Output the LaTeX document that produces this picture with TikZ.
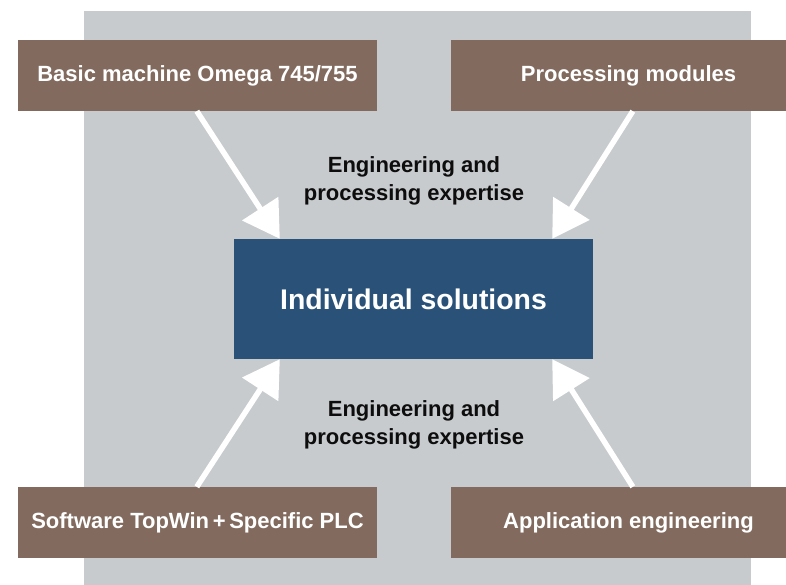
\documentclass[tikz,border=0pt]{standalone}
\usepackage{fontspec}
\setmainfont{Liberation Sans}
\usetikzlibrary{arrows.meta}
\definecolor{bgGray}{HTML}{C8CBCE}
\definecolor{boxBrown}{HTML}{826B5E}
\definecolor{boxBlue}{HTML}{2A5279}
\tikzset{
  srcbox/.style={fill=boxBrown, draw=none, minimum height=71pt, inner sep=0pt,
    text=white, font=\fontsize{22}{26}\selectfont\bfseries},
  centerbox/.style={fill=boxBlue, draw=none, minimum width=359pt, minimum height=120pt,
    inner sep=0pt, text=white, font=\fontsize{28.4}{32}\selectfont\bfseries},
  lbl/.style={align=center, inner sep=0pt, text=black!95,
    font=\fontsize{22}{27.5}\selectfont\bfseries},
  flow/.style={draw=white, line width=5.5pt,
    -{Triangle[length=36pt,width=42pt]}}
}
\begin{document}
\begin{tikzpicture}[x=1pt,y=-1pt]
\useasboundingbox (0,0) rectangle (786,585);
\fill[bgGray] (84,11) rectangle (751,585);
\node[srcbox, minimum width=359pt] (tl) at (197.5,75.5) {Basic machine Omega 745/755};
\node[srcbox, minimum width=355pt] (tr) at (628.5,75.5) {Processing modules};
\node[srcbox, minimum width=359pt] (bl) at (197.5,522.5) {Software TopWin\,+\,Specific PLC};
\node[srcbox, minimum width=355pt] (br) at (628.5,522.5) {Application engineering};
\node[centerbox] (c) at (413.5,299) {Individual solutions};
\node[lbl] (lt) at (414,181) {Engineering and\\processing expertise};
\node[lbl] (lb) at (414,425) {Engineering and\\processing expertise};
\draw[flow] ([xshift=179pt]tl.south west) -- ([xshift=46pt]c.north west);
\draw[flow] ([xshift=182pt]tr.south west) -- ([xshift=-41pt]c.north east);
\draw[flow] ([xshift=179pt]bl.north west) -- ([xshift=46pt]c.south west);
\draw[flow] ([xshift=182pt]br.north west) -- ([xshift=-41pt]c.south east);
\end{tikzpicture}
\end{document}
